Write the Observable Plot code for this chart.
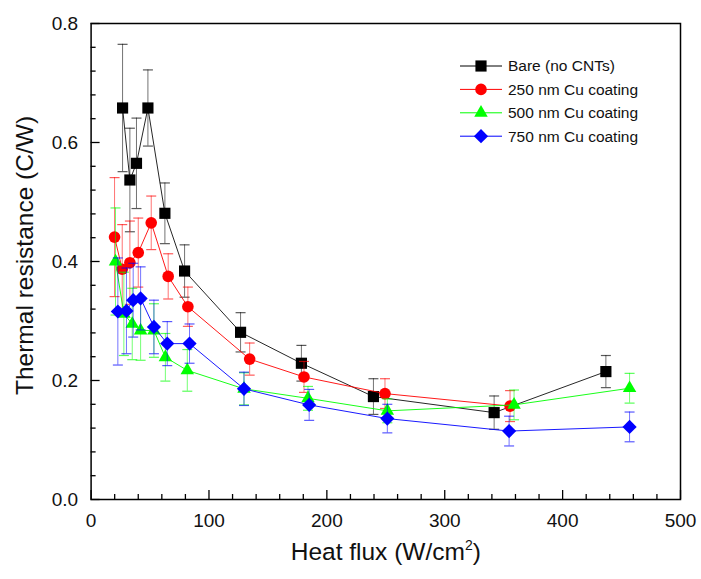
<!DOCTYPE html>
<html><head><meta charset="utf-8">
<script src="https://cdn.jsdelivr.net/npm/d3@7"></script>
<script src="https://cdn.jsdelivr.net/npm/@observablehq/plot@0.6"></script>
<style>body{margin:0;background:#fff}</style>
</head><body><div id="chart"></div>
<script>
const seriesNames = ["Bare (no CNTs)", "250 nm Cu coating", "500 nm Cu coating", "750 nm Cu coating"];

const bareX = [26.7, 32.9, 38.5, 48.2, 62.6, 79.3, 126.8, 178.4, 239.5, 341.9, 436.7];
const bareY = [0.658, 0.537, 0.565, 0.658, 0.481, 0.384, 0.281, 0.229, 0.173, 0.146, 0.215];
const bareErr = [0.107, 0.087, 0.076, 0.064, 0.051, 0.044, 0.033, 0.030, 0.030, 0.028, 0.027];

const cu250X = [19.9, 26.4, 32.9, 40.0, 51.0, 65.4, 82.1, 134.5, 180.6, 249.3, 355.4];
const cu250Y = [0.441, 0.387, 0.398, 0.415, 0.465, 0.375, 0.324, 0.236, 0.206, 0.178, 0.157];
const cu250Err = [0.100, 0.075, 0.070, 0.058, 0.045, 0.038, 0.033, 0.027, 0.026, 0.025, 0.026];

const cu500X = [20.7, 27.8, 34.9, 42.0, 53.3, 63.0, 81.6, 129.7, 184.0, 251.3, 358.8, 456.8];
const cu500Y = [0.400, 0.312, 0.295, 0.284, 0.284, 0.239, 0.217, 0.186, 0.170, 0.149, 0.159, 0.187];
const cu500Err = [0.090, 0.070, 0.060, 0.050, 0.045, 0.040, 0.035, 0.027, 0.020, 0.020, 0.025, 0.025];

const cu750X = [22.7, 30.0, 35.7, 42.0, 53.3, 64.6, 83.5, 129.7, 185.0, 251.3, 354.6, 456.8];
const cu750Y = [0.316, 0.317, 0.335, 0.338, 0.290, 0.262, 0.262, 0.186, 0.159, 0.136, 0.115, 0.122];
const cu750Err = [0.090, 0.072, 0.062, 0.053, 0.045, 0.037, 0.033, 0.028, 0.026, 0.024, 0.025, 0.025];

const xMajorTicks = [0, 100, 200, 300, 400, 500];
const xMinorTicks = [20, 40, 60, 80, 120, 140, 160, 180, 220, 240, 260, 280, 320, 340, 360, 380, 420, 440, 460, 480];
const yMajorTicks = [0.0, 0.2, 0.4, 0.6, 0.8];
const yMinorTicks = [0.04, 0.08, 0.12, 0.16, 0.24, 0.28, 0.32, 0.36, 0.44, 0.48, 0.52, 0.56, 0.64, 0.68, 0.72, 0.76];

const xTitle = "Heat flux (W/cm2)";
const yTitle = "Thermal resistance (C/W)";

// styles
const colors = ["#000000", "#ff0000", "#00ff00", "#0000ff"];
const symbols = ["square", "circle", "triangle", "diamond2"];
const radii = [6.3, 5.8, 5.0, 6.4];

const raw = [[bareX, bareY, bareErr], [cu250X, cu250Y, cu250Err], [cu500X, cu500Y, cu500Err], [cu750X, cu750Y, cu750Err]];
const series = raw.map(([xs, ys, es], i) => xs.map((x, j) => ({x, y: ys[j], e: es[j], s: seriesNames[i]})));

const cap = {draw(ctx) { ctx.moveTo(-5, 0); ctx.lineTo(5, 0); }};

const W = 701, H = 579, mL = 90.6, mR = 21, mT = 23, mB = 80;
const fw = W - mL - mR, fh = H - mT - mB;

const marks = [];
series.forEach((rows, i) => {
  const c = colors[i];
  marks.push(
    Plot.ruleX(rows, {x: "x", y1: d => d.y - d.e, y2: d => d.y + d.e, stroke: c, strokeOpacity: 0.55, strokeWidth: 1}),
    Plot.dot(rows, {x: "x", y: d => d.y + d.e, symbol: cap, r: 4, stroke: c, strokeOpacity: 0.65, strokeWidth: 1.2, fill: "none"}),
    Plot.dot(rows, {x: "x", y: d => d.y - d.e, symbol: cap, r: 4, stroke: c, strokeOpacity: 0.65, strokeWidth: 1.2, fill: "none"}),
    Plot.line(rows, {x: "x", y: "y", stroke: c, strokeWidth: 1, strokeOpacity: i === 0 ? 0.85 : 0.9}),
    Plot.dot(rows, {x: "x", y: "y", symbol: symbols[i], r: radii[i], fill: c, stroke: "none"})
  );
});

marks.push(
  Plot.ruleX(xMajorTicks, {x: d => d, insetTop: fh - 9, stroke: "#000", strokeWidth: 1.3}),
  Plot.ruleX(xMinorTicks, {x: d => d, insetTop: fh - 5, stroke: "#000", strokeWidth: 1.3}),
  Plot.ruleY(yMajorTicks, {y: d => d, insetRight: fw - 9, stroke: "#000", strokeWidth: 1.3}),
  Plot.ruleY(yMinorTicks, {y: d => d, insetRight: fw - 5, stroke: "#000", strokeWidth: 1.3}),
  Plot.axisX(xMajorTicks, {tickSize: 0, tickPadding: 14, fontSize: 19, label: null, tickFormat: d => String(d)}),
  Plot.axisY(yMajorTicks, {tickSize: 0, tickPadding: 13, fontSize: 19, label: null, tickFormat: d3.format(".1f")}),
  Plot.frame({stroke: "#000", strokeWidth: 1.5}),
  Plot.text([xTitle], {frameAnchor: "bottom", dy: 60, fontSize: 24.5, fill: "#111", textAnchor: "middle"}),
  Plot.text([yTitle], {frameAnchor: "left", dx: -66, dy: -6, rotate: -90, fontSize: 24.5, fill: "#111", textAnchor: "middle"})
);

const svg = Plot.plot({
  width: W, height: H,
  marginLeft: mL, marginRight: mR, marginTop: mT, marginBottom: mB,
  style: {fontFamily: "'Liberation Sans', Arial, sans-serif", background: "#fff", color: "#111"},
  x: {domain: [0, 500], axis: null},
  y: {domain: [0, 0.8], axis: null},
  marks
});

// superscript in x title
d3.select(svg).selectAll("text").filter(function() { return this.textContent === xTitle; }).each(function() {
  const t = d3.select(this);
  t.text(null);
  t.append("tspan").text("Heat flux (W/cm");
  t.append("tspan").text("2").attr("font-size", 14).attr("dy", -10);
  t.append("tspan").text(")").attr("dy", 10);
});

// legend
const lg = d3.select(svg).append("g").attr("font-family", "'Liberation Sans', Arial, sans-serif").attr("font-size", 15.5).attr("text-anchor", "start");
seriesNames.forEach((name, i) => {
  const yy = 66 + i * 23.4;
  const g = lg.append("g").attr("transform", `translate(0,${yy})`);
  g.append("line").attr("x1", 460).attr("x2", 502).attr("y1", 0).attr("y2", 0).attr("stroke", colors[i]).attr("stroke-width", 1);
  g.append("path").attr("d", d3.symbol(d3["symbol" + {square: "Square", circle: "Circle", triangle: "Triangle", diamond2: "Diamond2"}[symbols[i]]], Math.PI * radii[i] * radii[i])())
    .attr("transform", "translate(481,0)").attr("fill", colors[i]);
  g.append("text").attr("x", 508).attr("y", 0).attr("dy", "0.35em").attr("text-anchor", "start").attr("fill", "#111").text(name);
});

document.getElementById("chart").appendChild(svg);
</script></body></html>
